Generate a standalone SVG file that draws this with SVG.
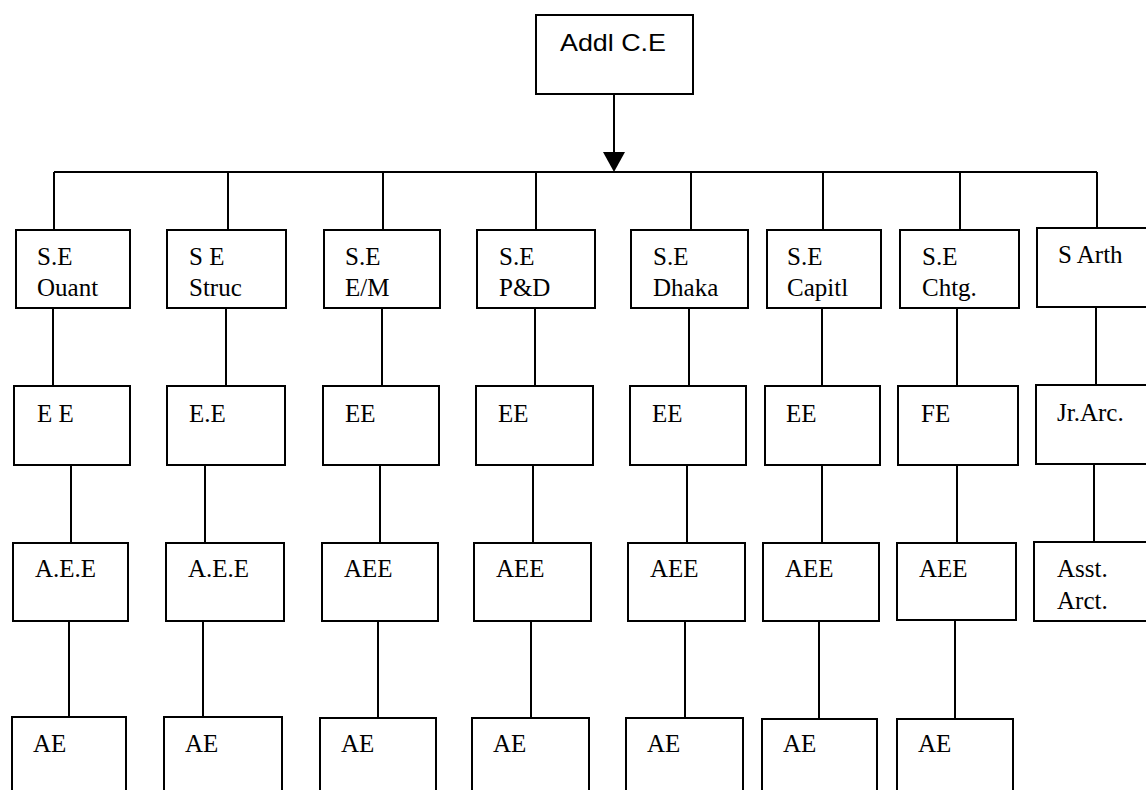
<svg xmlns="http://www.w3.org/2000/svg" width="1146" height="790" viewBox="0 0 1146 790">
<style>
.box{fill:#fff;stroke:#000;stroke-width:2}
.ln{stroke:#000;stroke-width:2;fill:none}
text{font-family:"Liberation Serif","Times New Roman",serif;font-size:25px;fill:#000}
.sans{font-family:"Liberation Sans",Arial,sans-serif;font-size:24px}
</style>
<rect width="1146" height="790" fill="#fff"/>
<g id="connectors">
<line class="ln" x1="614" y1="94" x2="614" y2="156"/>
<polygon points="603,152 625,152 614,172" fill="#000"/>
<line class="ln" x1="54" y1="172" x2="1097" y2="172" stroke-width="2.5"/>
<path class="ln" d="M54 172V230M228 172V230M383 172V230M536 172V230M691 172V230M823 172V230M960 172V230M1097 172V228"/>
<path class="ln" d="M53 308V386M226 308V386M382 308V386M535 308V386M689 308V386M822 308V386M957 308V386M1096 307V385"/>
<path class="ln" d="M71 465V543M205 465V543M380 465V543M533 465V543M687 465V543M822 465V543M957 465V543M1094 464V542"/>
<path class="ln" d="M69 621V718M203 621V718M378 621V718M531 621V718M685 621V718M819 621V719M955 620V719"/>
</g>
<g id="addl-ce"><rect class="box" x="536" y="15" width="157" height="79"/><text class="sans" x="560" y="51" textLength="106" lengthAdjust="spacingAndGlyphs">Addl  C.E</text></g>

<g id="se-quant"><rect class="box" x="16" y="230" width="114" height="78"/><text x="37" y="265">S.E</text><text x="37" y="296">Ouant</text></g>
<g id="se-struc"><rect class="box" x="167" y="230" width="119" height="78"/><text x="189" y="265">S E</text><text x="189" y="296">Struc</text></g>
<g id="se-em"><rect class="box" x="324" y="230" width="116" height="78"/><text x="345" y="265">S.E</text><text x="345" y="296">E/M</text></g>
<g id="se-pd"><rect class="box" x="477" y="230" width="118" height="78"/><text x="499" y="265">S.E</text><text x="499" y="296">P&amp;D</text></g>
<g id="se-dhaka"><rect class="box" x="631" y="230" width="117" height="78"/><text x="653" y="265">S.E</text><text x="653" y="296">Dhaka</text></g>
<g id="se-capitl"><rect class="box" x="767" y="230" width="114" height="78"/><text x="787" y="265">S.E</text><text x="787" y="296">Capitl</text></g>
<g id="se-chtg"><rect class="box" x="900" y="230" width="119" height="78"/><text x="922" y="265">S.E</text><text x="922" y="296">Chtg.</text></g>
<g id="s-arth"><rect class="box" x="1037" y="228" width="112" height="79"/><text x="1058" y="263">S Arth</text></g>

<g id="ee-1"><rect class="box" x="14" y="386" width="116" height="79"/><text x="37" y="422">E E</text></g>
<g id="ee-2"><rect class="box" x="167" y="386" width="118" height="79"/><text x="189" y="422">E.E</text></g>
<g id="ee-3"><rect class="box" x="323" y="386" width="116" height="79"/><text x="345" y="422">EE</text></g>
<g id="ee-4"><rect class="box" x="476" y="386" width="117" height="79"/><text x="498" y="422">EE</text></g>
<g id="ee-5"><rect class="box" x="630" y="386" width="116" height="79"/><text x="652" y="422">EE</text></g>
<g id="ee-6"><rect class="box" x="765" y="386" width="115" height="79"/><text x="786" y="422">EE</text></g>
<g id="ee-7"><rect class="box" x="898" y="386" width="120" height="79"/><text x="921" y="422">FE</text></g>
<g id="jr-arc"><rect class="box" x="1036" y="385" width="113" height="79"/><text x="1057" y="421">Jr.Arc.</text></g>

<g id="aee-1"><rect class="box" x="13" y="543" width="115" height="78"/><text x="35" y="577">A.E.E</text></g>
<g id="aee-2"><rect class="box" x="166" y="543" width="118" height="78"/><text x="188" y="577">A.E.E</text></g>
<g id="aee-3"><rect class="box" x="322" y="543" width="116" height="78"/><text x="344" y="577">AEE</text></g>
<g id="aee-4"><rect class="box" x="474" y="543" width="117" height="78"/><text x="496" y="577">AEE</text></g>
<g id="aee-5"><rect class="box" x="628" y="543" width="117" height="78"/><text x="650" y="577">AEE</text></g>
<g id="aee-6"><rect class="box" x="763" y="543" width="116" height="78"/><text x="785" y="577">AEE</text></g>
<g id="aee-7"><rect class="box" x="897" y="543" width="119" height="77"/><text x="919" y="577">AEE</text></g>
<g id="asst-arct"><rect class="box" x="1034" y="542" width="115" height="79"/><text x="1057" y="577">Asst.</text><text x="1057" y="609">Arct.</text></g>

<g id="ae-1"><rect class="box" x="12" y="717" width="114" height="90"/><text x="33" y="752">AE</text></g>
<g id="ae-2"><rect class="box" x="164" y="717" width="118" height="90"/><text x="185" y="752">AE</text></g>
<g id="ae-3"><rect class="box" x="320" y="718" width="116" height="90"/><text x="341" y="752">AE</text></g>
<g id="ae-4"><rect class="box" x="472" y="718" width="117" height="90"/><text x="493" y="752">AE</text></g>
<g id="ae-5"><rect class="box" x="626" y="718" width="117" height="90"/><text x="647" y="752">AE</text></g>
<g id="ae-6"><rect class="box" x="762" y="719" width="115" height="90"/><text x="783" y="752">AE</text></g>
<g id="ae-7"><rect class="box" x="897" y="719" width="116" height="90"/><text x="918" y="752">AE</text></g>
</svg>
